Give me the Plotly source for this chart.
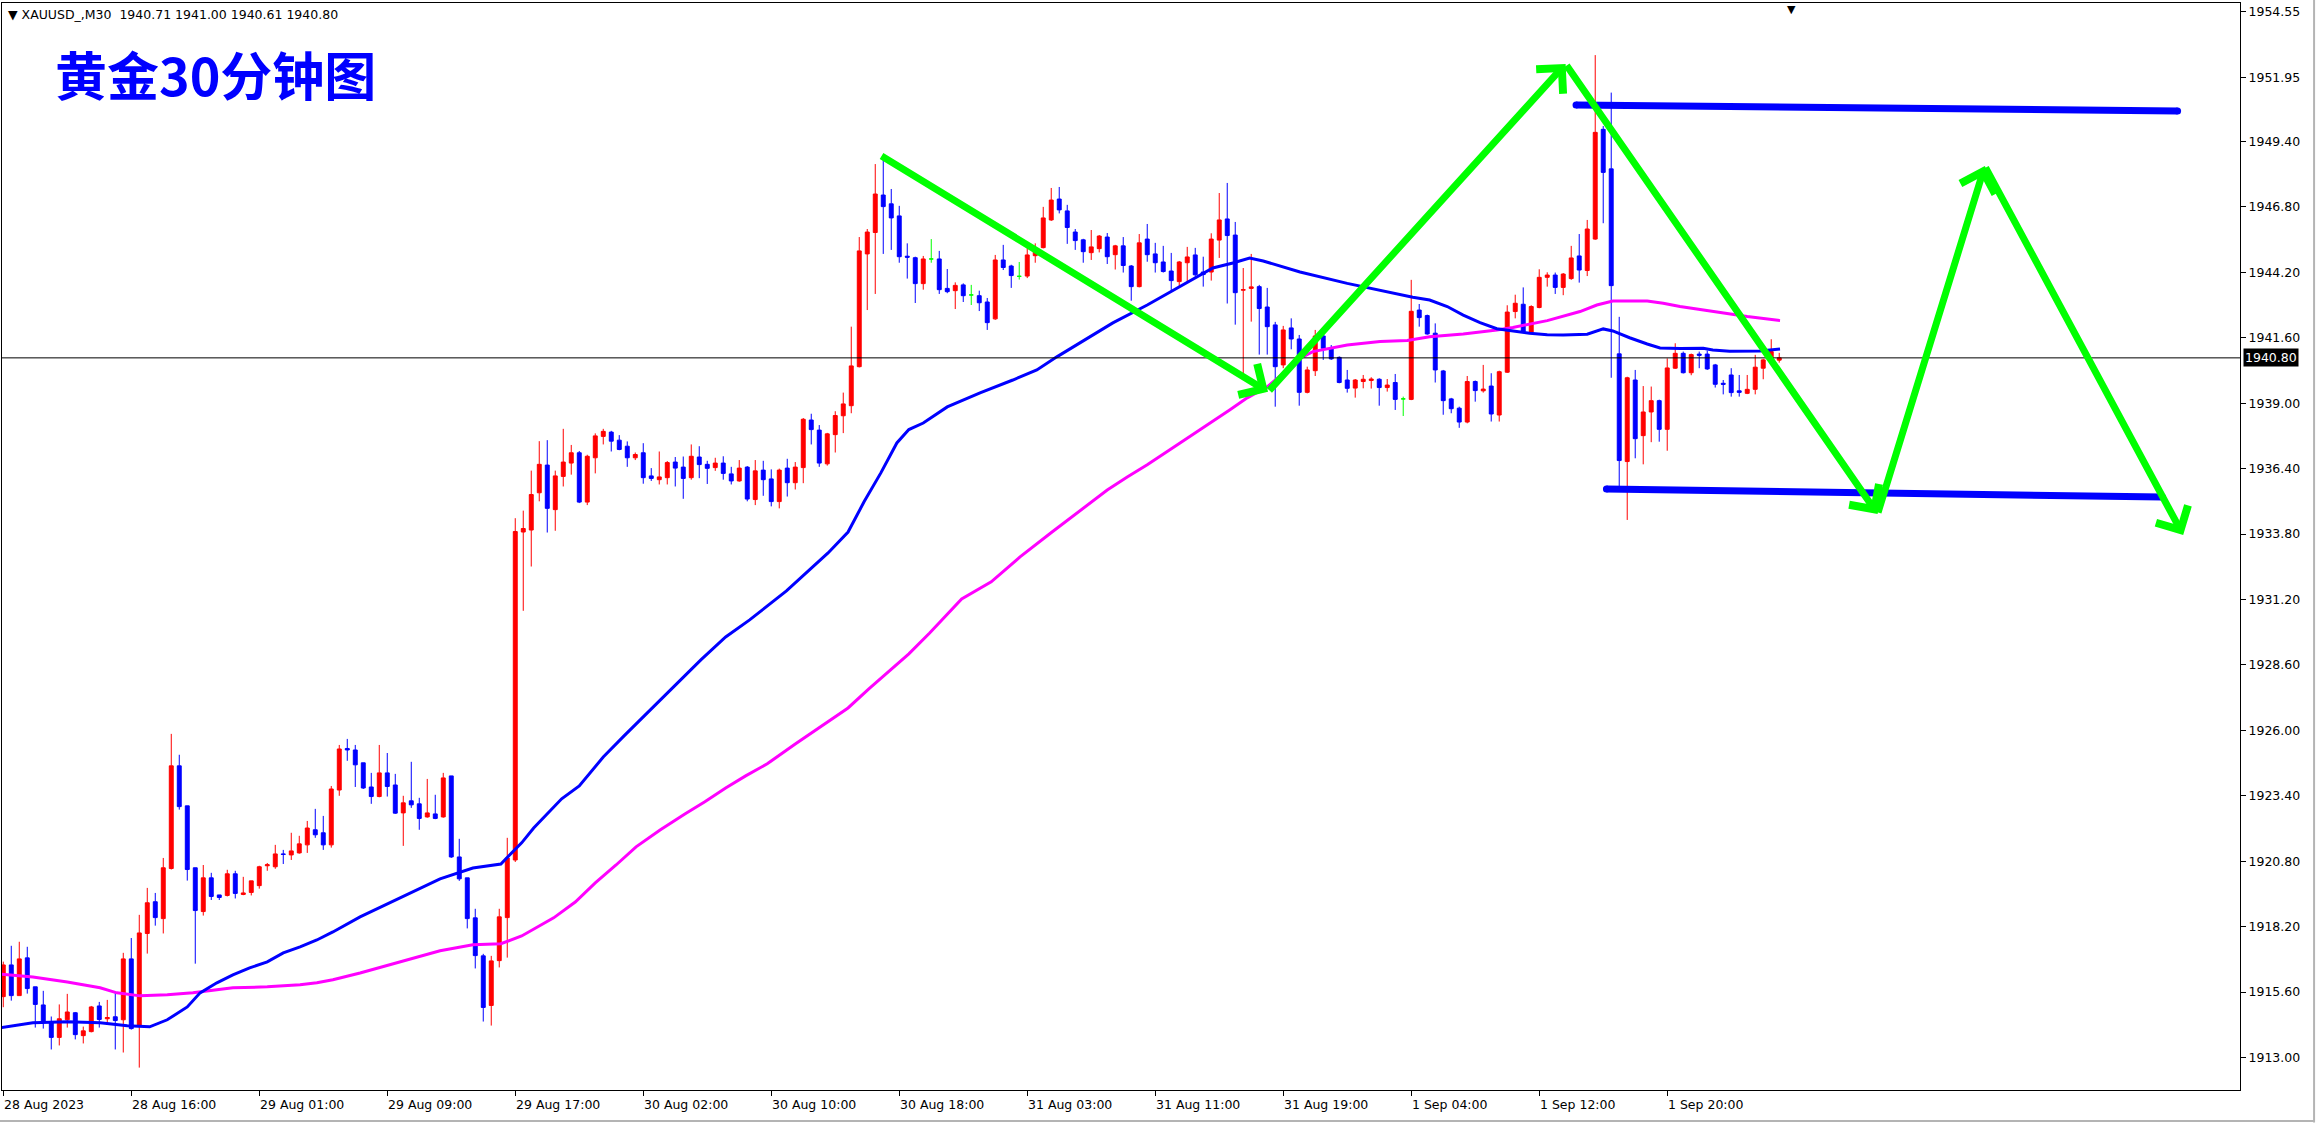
import plotly.graph_objects as go

# ---------------- data ----------------
opens = [1915.42, 1916.68, 1915.46, 1916.96, 1915.81, 1915.09, 1914.39, 1913.80, 1914.50, 1914.78,
         1913.87, 1914.03, 1915.05, 1914.54, 1914.62, 1914.50, 1916.92, 1914.23, 1917.93, 1919.19,
         1918.52, 1920.51, 1924.59, 1923.00, 1920.54, 1918.80, 1920.14, 1919.46, 1919.44, 1920.30,
         1919.48, 1919.56, 1919.83, 1920.62, 1920.58, 1921.09, 1921.05, 1921.13, 1921.45, 1922.05,
         1921.93, 1921.45, 1923.63, 1925.28, 1925.22, 1924.71, 1923.75, 1923.37, 1924.31, 1923.83,
         1922.72, 1923.20, 1923.08, 1922.56, 1922.68, 1922.56, 1924.19, 1920.97, 1920.14, 1918.55,
         1917.04, 1915.07, 1916.85, 1918.56, 1920.85, 1933.88, 1933.96, 1935.44, 1936.54, 1934.77,
         1936.09, 1936.62, 1937.03, 1935.07, 1936.83, 1937.68, 1937.85, 1937.53, 1937.29, 1936.83,
         1937.03, 1936.11, 1935.96, 1936.04, 1936.66, 1936.46, 1936.04, 1936.86, 1936.57, 1936.44,
         1936.62, 1936.19, 1935.91, 1936.46, 1935.17, 1936.34, 1935.99, 1935.09, 1936.42, 1935.84,
         1936.44, 1938.33, 1937.93, 1936.59, 1937.75, 1938.50, 1938.90, 1940.45, 1944.93, 1945.78,
         1947.27, 1946.92, 1946.44, 1944.84, 1944.78, 1943.75, 1944.73, 1944.73, 1943.56, 1943.47,
         1943.70, 1943.30, 1943.27, 1943.02, 1942.35, 1944.69, 1944.45, 1944.04, 1944.05, 1944.86,
         1945.18, 1946.28, 1947.11, 1946.64, 1945.80, 1945.49, 1944.98, 1945.14, 1945.60, 1944.90,
         1945.25, 1944.45, 1943.63, 1945.52, 1944.93, 1944.61, 1944.25, 1943.83, 1944.58, 1944.89,
         1944.21, 1944.21, 1945.48, 1946.32, 1945.68, 1943.49, 1943.56, 1943.63, 1942.82, 1942.11,
         1940.52, 1941.99, 1941.55, 1939.43, 1940.29, 1941.67, 1941.18, 1940.82, 1939.92, 1939.60,
         1939.86, 1939.90, 1939.95, 1939.62, 1939.82, 1939.17, 1939.15, 1942.70, 1942.48, 1941.78,
         1940.28, 1939.17, 1938.80, 1938.25, 1939.86, 1939.49, 1939.68, 1938.53, 1940.23, 1942.64,
         1942.93, 1941.83, 1942.80, 1944.00, 1944.09, 1943.60, 1943.95, 1944.85, 1944.27, 1945.52,
         1949.88, 1948.31, 1940.96, 1936.68, 1939.92, 1937.71, 1938.65, 1939.10, 1937.96, 1940.39,
         1940.98, 1940.21, 1940.95, 1940.95, 1940.52, 1939.79, 1940.12, 1939.49, 1939.39, 1939.55,
         1940.39, 1940.74, 1940.71]
highs = [1916.81, 1917.44, 1917.60, 1917.40, 1915.81, 1915.65, 1914.63, 1915.11, 1915.53, 1914.81,
         1914.23, 1915.05, 1915.21, 1915.29, 1915.62, 1917.16, 1917.75, 1918.67, 1919.74, 1919.54,
         1920.93, 1925.86, 1925.03, 1923.00, 1920.54, 1920.65, 1920.34, 1919.46, 1920.46, 1920.42,
         1920.18, 1920.02, 1920.62, 1920.73, 1921.45, 1921.25, 1921.93, 1921.81, 1922.40, 1922.88,
         1922.60, 1923.79, 1925.42, 1925.66, 1925.42, 1924.71, 1924.31, 1925.42, 1925.10, 1924.27,
         1923.40, 1924.75, 1923.32, 1924.07, 1923.44, 1924.31, 1924.19, 1921.69, 1920.14, 1918.91,
         1917.12, 1917.04, 1918.91, 1921.73, 1934.43, 1934.73, 1936.32, 1937.49, 1937.53, 1936.32,
         1937.98, 1937.34, 1937.10, 1936.95, 1937.80, 1937.98, 1937.90, 1937.73, 1937.48, 1937.04,
         1937.41, 1936.42, 1937.08, 1936.70, 1936.86, 1936.88, 1937.36, 1937.29, 1936.71, 1936.83,
         1936.89, 1936.47, 1936.74, 1936.50, 1936.74, 1936.71, 1936.37, 1936.40, 1936.79, 1936.66,
         1938.41, 1938.58, 1938.13, 1937.82, 1938.68, 1939.42, 1942.04, 1945.60, 1945.92, 1948.50,
         1948.66, 1947.51, 1946.84, 1945.35, 1944.82, 1944.85, 1945.52, 1945.05, 1944.33, 1943.80,
         1943.76, 1943.70, 1943.47, 1943.18, 1944.89, 1945.29, 1944.50, 1944.61, 1945.16, 1945.35,
         1946.80, 1947.55, 1947.59, 1946.88, 1945.92, 1945.53, 1945.88, 1945.68, 1945.76, 1945.29,
         1945.60, 1944.49, 1945.72, 1946.12, 1945.37, 1945.25, 1944.97, 1944.65, 1945.21, 1945.17,
         1944.82, 1945.75, 1947.35, 1947.75, 1946.20, 1944.37, 1944.93, 1943.70, 1943.58, 1942.23,
         1942.07, 1942.37, 1941.71, 1940.45, 1941.91, 1941.91, 1941.31, 1940.86, 1940.32, 1939.96,
         1940.12, 1940.03, 1939.99, 1939.96, 1940.16, 1939.26, 1943.90, 1942.94, 1942.52, 1942.17,
         1940.32, 1939.21, 1938.86, 1940.08, 1939.90, 1940.52, 1940.19, 1940.29, 1942.89, 1943.31,
         1943.60, 1942.89, 1944.32, 1944.20, 1944.19, 1944.17, 1945.25, 1945.72, 1946.28, 1952.83,
         1950.01, 1951.34, 1942.43, 1940.05, 1940.32, 1939.68, 1939.66, 1939.14, 1940.78, 1941.38,
         1941.05, 1940.97, 1941.05, 1941.09, 1940.56, 1939.92, 1940.39, 1940.12, 1940.12, 1940.92,
         1940.76, 1941.54, 1941.00]
lows = [1915.00, 1915.26, 1915.46, 1915.54, 1914.19, 1914.15, 1913.32, 1913.48, 1914.19, 1913.72,
        1913.56, 1914.00, 1914.19, 1914.35, 1913.32, 1913.20, 1914.11, 1912.60, 1917.13, 1918.24,
        1917.93, 1920.47, 1922.85, 1920.03, 1916.73, 1918.64, 1919.26, 1919.26, 1919.40, 1919.32,
        1919.45, 1919.44, 1919.71, 1920.42, 1920.50, 1920.69, 1920.85, 1921.10, 1921.13, 1921.73,
        1921.25, 1921.34, 1923.40, 1924.79, 1923.75, 1923.67, 1923.08, 1923.34, 1923.37, 1922.68,
        1921.41, 1922.92, 1922.05, 1922.53, 1922.47, 1922.53, 1920.93, 1920.02, 1918.13, 1916.54,
        1914.43, 1914.27, 1916.58, 1916.97, 1920.77, 1930.75, 1932.51, 1935.10, 1933.86, 1933.93,
        1935.69, 1936.16, 1935.03, 1934.95, 1936.21, 1937.36, 1937.08, 1937.13, 1936.47, 1936.74,
        1935.80, 1935.91, 1935.77, 1935.77, 1935.69, 1935.20, 1935.96, 1936.02, 1935.79, 1936.31,
        1935.96, 1935.77, 1935.88, 1935.10, 1934.95, 1935.32, 1934.90, 1934.82, 1935.29, 1935.57,
        1935.82, 1937.36, 1936.47, 1936.52, 1937.04, 1937.81, 1938.60, 1940.42, 1942.70, 1943.34,
        1944.93, 1945.09, 1944.58, 1943.95, 1942.98, 1943.51, 1944.58, 1943.34, 1943.37, 1942.74,
        1943.02, 1942.90, 1942.66, 1941.91, 1942.31, 1944.29, 1943.58, 1943.91, 1943.97, 1944.58,
        1945.15, 1946.24, 1946.54, 1945.33, 1945.09, 1944.58, 1944.69, 1944.99, 1944.53, 1944.31,
        1944.19, 1943.07, 1943.60, 1944.62, 1944.19, 1944.19, 1943.47, 1943.60, 1943.79, 1944.03,
        1943.63, 1943.87, 1944.77, 1942.96, 1942.12, 1940.10, 1942.24, 1940.93, 1940.93, 1938.86,
        1940.39, 1941.14, 1938.90, 1939.39, 1940.08, 1940.72, 1940.72, 1939.79, 1939.42, 1939.22,
        1939.59, 1939.58, 1938.90, 1939.46, 1938.73, 1938.49, 1939.12, 1942.04, 1941.72, 1939.82,
        1938.54, 1938.60, 1938.02, 1938.20, 1939.06, 1939.42, 1938.27, 1938.27, 1940.20, 1942.37,
        1941.80, 1941.80, 1942.77, 1943.63, 1943.34, 1943.29, 1943.90, 1943.79, 1944.05, 1945.49,
        1946.15, 1940.01, 1935.60, 1934.36, 1936.81, 1936.57, 1937.45, 1937.47, 1937.11, 1940.36,
        1940.18, 1940.11, 1940.39, 1940.32, 1939.62, 1939.35, 1939.26, 1939.26, 1939.36, 1939.35,
        1939.95, 1940.71, 1940.61]
closes = [1916.68, 1915.46, 1916.92, 1915.74, 1915.11, 1914.39, 1913.80, 1914.54, 1914.81, 1913.91,
          1914.06, 1915.01, 1914.51, 1914.59, 1914.47, 1916.92, 1914.15, 1917.95, 1919.15, 1918.56,
          1920.54, 1924.59, 1922.97, 1920.47, 1918.84, 1920.14, 1919.40, 1919.36, 1920.30, 1919.52,
          1919.54, 1920.02, 1920.58, 1920.66, 1921.09, 1921.07, 1921.21, 1921.49, 1922.12, 1921.85,
          1921.45, 1923.67, 1925.26, 1925.22, 1924.63, 1923.71, 1923.37, 1924.31, 1923.77, 1922.71,
          1923.12, 1923.04, 1922.50, 1922.72, 1922.50, 1924.11, 1920.97, 1920.10, 1918.52, 1917.05,
          1914.99, 1916.84, 1918.59, 1920.93, 1933.90, 1934.02, 1935.37, 1936.57, 1934.82, 1936.11,
          1936.66, 1937.03, 1935.07, 1936.89, 1937.70, 1937.88, 1937.49, 1937.16, 1936.83, 1936.96,
          1936.04, 1936.01, 1936.07, 1936.64, 1936.42, 1936.01, 1936.89, 1936.56, 1936.41, 1936.62,
          1936.21, 1935.91, 1936.42, 1935.19, 1936.31, 1935.96, 1935.09, 1936.34, 1935.84, 1936.46,
          1938.36, 1937.95, 1936.62, 1937.78, 1938.51, 1938.97, 1940.48, 1945.05, 1945.80, 1947.31,
          1946.81, 1946.36, 1944.82, 1944.80, 1943.75, 1944.73, 1944.73, 1943.51, 1943.43, 1943.68,
          1943.27, 1943.30, 1942.99, 1942.20, 1944.69, 1944.39, 1944.07, 1944.04, 1944.89, 1945.09,
          1946.36, 1947.07, 1946.68, 1945.98, 1945.46, 1945.02, 1945.21, 1945.64, 1944.82, 1945.25,
          1944.47, 1943.63, 1945.37, 1944.90, 1944.58, 1944.23, 1943.87, 1944.61, 1944.81, 1944.10,
          1944.11, 1945.52, 1946.28, 1945.66, 1943.39, 1943.51, 1943.62, 1942.76, 1942.04, 1940.45,
          1941.91, 1941.55, 1939.43, 1940.32, 1941.67, 1941.18, 1940.76, 1939.82, 1939.59, 1939.92,
          1939.95, 1939.96, 1939.62, 1939.72, 1939.15, 1939.17, 1942.65, 1942.40, 1941.75, 1940.32,
          1939.10, 1938.78, 1938.25, 1939.86, 1939.50, 1939.56, 1938.57, 1940.25, 1942.62, 1942.97,
          1941.84, 1942.84, 1944.00, 1944.09, 1943.60, 1944.13, 1944.77, 1944.29, 1945.92, 1949.76,
          1948.17, 1943.67, 1936.72, 1940.01, 1937.59, 1938.65, 1939.10, 1937.96, 1940.40, 1940.98,
          1940.21, 1940.93, 1940.90, 1940.36, 1939.75, 1939.75, 1939.42, 1939.43, 1939.55, 1940.43,
          1940.72, 1941.05, 1940.80]

tick_bars = [0, 16, 32, 48, 64, 80, 96, 112, 128, 144, 160, 176, 192, 208]
tick_labels = ["28 Aug 2023", "28 Aug 16:00", "29 Aug 01:00", "29 Aug 09:00", "29 Aug 17:00",
               "30 Aug 02:00", "30 Aug 10:00", "30 Aug 18:00", "31 Aug 03:00", "31 Aug 11:00",
               "31 Aug 19:00", "1 Sep 04:00", "1 Sep 12:00", "1 Sep 20:00"]
price_ticks = [1954.55, 1951.95, 1949.40, 1946.80, 1944.20, 1941.60, 1939.00, 1936.40, 1933.80,
               1931.20, 1928.60, 1926.00, 1923.40, 1920.80, 1918.20, 1915.60, 1913.00]

ma_fast_x = [-0.4, 3.7, 8.0, 12.1, 15.5, 18.3, 20.5, 23.0, 24.6, 26.7, 28.7, 30.8, 33.0, 35.0, 37.1,
             39.2, 41.2, 44.6, 54.6, 58.7, 62.2, 64.8, 66.3, 69.8, 72.0, 75.0, 77.6, 81.1, 84.2, 87.2,
             90.3, 93.3, 97.9, 100.5, 103.1, 105.6, 107.6, 109.7, 111.7, 113.2, 115.0, 118.0, 122.1,
             126.2, 129.2, 131.7, 134.6, 138.7, 143.0, 147.1, 151.2, 153.7, 155.8, 157.5, 159.6, 162.1,
             168.0, 172.1, 176.2, 178.3, 180.5, 182.5, 184.6, 186.7, 188.7, 190.8, 193.0, 195.0, 198.0,
             200.0, 201.2, 203.3, 205.5, 207.1, 209.6, 212.5, 213.7, 215.8, 219.6, 222.1]
ma_fast_y = [1914.18, 1914.38, 1914.42, 1914.38, 1914.26, 1914.22, 1914.50, 1915.01, 1915.57, 1915.97,
             1916.28, 1916.56, 1916.80, 1917.16, 1917.40, 1917.67, 1917.99, 1918.59, 1920.10, 1920.53,
             1920.69, 1921.53, 1922.12, 1923.28, 1923.79, 1924.94, 1925.78, 1926.89, 1927.88, 1928.80,
             1929.71, 1930.39, 1931.54, 1932.29, 1933.05, 1933.88, 1935.08, 1936.23, 1937.42, 1937.95,
             1938.21, 1938.85, 1939.41, 1939.92, 1940.32, 1940.84, 1941.39, 1942.19, 1942.90, 1943.62,
             1944.37, 1944.57, 1944.77, 1944.65, 1944.45, 1944.21, 1943.76, 1943.47, 1943.21, 1943.10,
             1942.84, 1942.50, 1942.20, 1941.96, 1941.87, 1941.78, 1941.72, 1941.71, 1941.74, 1941.95,
             1941.87, 1941.60, 1941.35, 1941.19, 1941.17, 1941.18, 1941.11, 1941.06, 1941.07, 1941.15]
ma_slow_x = [-0.4, 3.7, 8.0, 12.1, 14.2, 17.1, 20.5, 23.7, 26.7, 28.7, 33.0, 37.1, 39.2, 41.2, 44.6,
             54.6, 58.7, 62.2, 64.8, 68.8, 71.5, 74.0, 76.6, 79.1, 82.1, 85.2, 87.7, 90.3, 92.8, 95.5,
             99.0, 103.1, 105.6, 108.2, 111.2, 113.2, 115.8, 119.8, 123.5, 127.1, 131.1, 134.6, 138.0,
             140.5, 143.0, 147.1, 150.0, 153.3, 155.5, 158.0, 160.5, 161.7, 163.7, 168.0, 172.1, 175.5,
             178.3, 182.5, 186.7, 188.7, 193.0, 197.1, 199.2, 201.2, 205.5, 207.5, 209.6, 213.7, 218.0,
             222.1]
ma_slow_y = [1916.32, 1916.20, 1916.00, 1915.77, 1915.57, 1915.45, 1915.49, 1915.57, 1915.69, 1915.77,
             1915.81, 1915.89, 1915.97, 1916.09, 1916.36, 1917.24, 1917.48, 1917.52, 1917.83, 1918.55,
             1919.18, 1919.94, 1920.65, 1921.37, 1922.04, 1922.68, 1923.16, 1923.71, 1924.19, 1924.67,
             1925.46, 1926.33, 1926.89, 1927.65, 1928.48, 1929.04, 1929.87, 1931.22, 1931.90, 1932.89,
             1933.88, 1934.72, 1935.55, 1936.07, 1936.55, 1937.42, 1938.02, 1938.73, 1939.21, 1939.65,
             1940.32, 1940.72, 1941.05, 1941.31, 1941.45, 1941.49, 1941.64, 1941.75, 1941.91, 1942.01,
             1942.28, 1942.64, 1942.90, 1943.06, 1943.06, 1942.97, 1942.84, 1942.64, 1942.44, 1942.28]

# hand-drawn forecast path (green arrows) and range lines (blue)
path_x = [109.6, 158.1, 195.3, 234.3, 247.7, 272.5]
path_y = [1948.86, 1939.45, 1952.48, 1934.60, 1948.42, 1933.76]
resistance_x = [196.6, 271.8]
resistance_y = [1950.85, 1950.61]
support_x = [200.4, 269.9]
support_y = [1935.59, 1935.27]

symbol = "XAUUSD_,M30"
last_price = 1940.80
title_text = "黄金30分钟图"

# ---------------- figure ----------------
UP, DOWN, DOJI = "#FF0000", "#0000FF", "#00FF00"
bars = list(range(len(opens)))
reg = [i for i in bars if opens[i] != closes[i]]
dj = [i for i in bars if opens[i] == closes[i]]

fig = go.Figure()
fig.add_trace(go.Candlestick(
    x=reg, open=[opens[i] for i in reg], high=[highs[i] for i in reg],
    low=[lows[i] for i in reg], close=[closes[i] for i in reg],
    increasing=dict(line=dict(color=UP, width=1), fillcolor=UP),
    decreasing=dict(line=dict(color=DOWN, width=1), fillcolor=DOWN),
    whiskerwidth=0, showlegend=False, hoverinfo="skip"))
fig.add_trace(go.Candlestick(
    x=dj, open=[opens[i] for i in dj], high=[highs[i] for i in dj],
    low=[lows[i] for i in dj], close=[closes[i] for i in dj],
    increasing=dict(line=dict(color=DOJI, width=1), fillcolor=DOJI),
    decreasing=dict(line=dict(color=DOJI, width=1), fillcolor=DOJI),
    whiskerwidth=0, showlegend=False, hoverinfo="skip"))

fig.add_trace(go.Scatter(x=ma_slow_x, y=ma_slow_y, mode="lines",
                         line=dict(color="#FF00FF", width=3), showlegend=False, hoverinfo="skip"))
fig.add_trace(go.Scatter(x=ma_fast_x, y=ma_fast_y, mode="lines",
                         line=dict(color="#0000FF", width=3), showlegend=False, hoverinfo="skip"))

for lx, ly in ((resistance_x, resistance_y), (support_x, support_y)):
    fig.add_trace(go.Scatter(x=lx, y=ly, mode="lines+markers",
                             line=dict(color="#0000FF", width=7),
                             marker=dict(color="#0000FF", size=7),
                             showlegend=False, hoverinfo="skip"))

fig.add_shape(type="line", xref="paper", x0=0, x1=1, yref="y", y0=last_price, y1=last_price,
              line=dict(color="black", width=1))
# terminal window border (light grey) at right and bottom edges
fig.add_shape(type="line", xref="paper", yref="paper", x0=1.0331, x1=1.0331, y0=-0.03, y1=1.003,
              line=dict(color="#B4B4B4", width=2))
fig.add_shape(type="line", xref="paper", yref="paper", x0=-0.001, x1=1.0331, y0=-0.0285, y1=-0.0285,
              line=dict(color="#B4B4B4", width=2))

annotations = []
for k in range(len(path_x) - 1):
    annotations.append(dict(
        x=path_x[k + 1], y=path_y[k + 1], xref="x", yref="y",
        ax=path_x[k], ay=path_y[k], axref="x", ayref="y",
        text="", showarrow=True, arrowhead=4, arrowsize=1.0, arrowwidth=7,
        arrowcolor=DOJI, standoff=0))

for b, lab in zip(tick_bars, tick_labels):
    annotations.append(dict(x=b, y=0, xref="x", yref="paper", text=lab, showarrow=False,
                            xanchor="left", yanchor="top", xshift=-1, yshift=-5,
                            font=dict(family="DejaVu Sans", size=12.5, color="black")))

annotations.append(dict(x=1, y=last_price, xref="paper", yref="y", text=f"{last_price:.2f}",
                        showarrow=False, xanchor="left", yanchor="middle", xshift=3,
                        bgcolor="black", borderpad=1,
                        font=dict(family="DejaVu Sans", size=12.5, color="white")))
annotations.append(dict(x=0.002, y=0.989, xref="paper", yref="paper",
                        text=f"▼ {symbol}  {opens[-1]:.2f} {highs[-1]:.2f} {lows[-1]:.2f} {closes[-1]:.2f}",
                        showarrow=False, xanchor="left", yanchor="middle",
                        font=dict(family="DejaVu Sans", size=12.5, color="black")))
annotations.append(dict(x=0.0228, y=0.9356, xref="paper", yref="paper", text=f"<b>{title_text}</b>",
                        showarrow=False, xanchor="left", yanchor="middle",
                        font=dict(family="Noto Sans CJK SC", size=52, color="#0000FF")))
annotations.append(dict(x=0.7994, y=1, xref="paper", yref="paper", text="▼",
                        showarrow=False, xanchor="center", yanchor="top", yshift=2,
                        font=dict(family="DejaVu Sans", size=11, color="black")))

fig.update_layout(
    width=2317, height=1123,
    margin=dict(l=2, r=77, t=3, b=33),
    paper_bgcolor="white", plot_bgcolor="white",
    showlegend=False, boxgap=0.3,
    annotations=annotations,
    xaxis=dict(range=[-0.16, 279.6], showgrid=False, zeroline=False,
               showline=True, mirror=True, linecolor="black", linewidth=1,
               tickmode="array", tickvals=tick_bars, ticks="outside", ticklen=5,
               tickcolor="black", showticklabels=False, rangeslider=dict(visible=False)),
    yaxis=dict(range=[1911.71, 1954.90], side="right", showgrid=False, zeroline=False,
               showline=True, mirror=True, linecolor="black", linewidth=1,
               tickmode="array", tickvals=price_ticks,
               ticktext=[f"{p:.2f}" for p in price_ticks],
               ticks="outside", ticklen=5, tickcolor="black",
               tickfont=dict(family="DejaVu Sans", size=12.5, color="black")),
)

fig.write_html("out.html", config={"displayModeBar": False},
               post_script="document.body.style.margin='0';document.body.style.overflow='hidden';")
